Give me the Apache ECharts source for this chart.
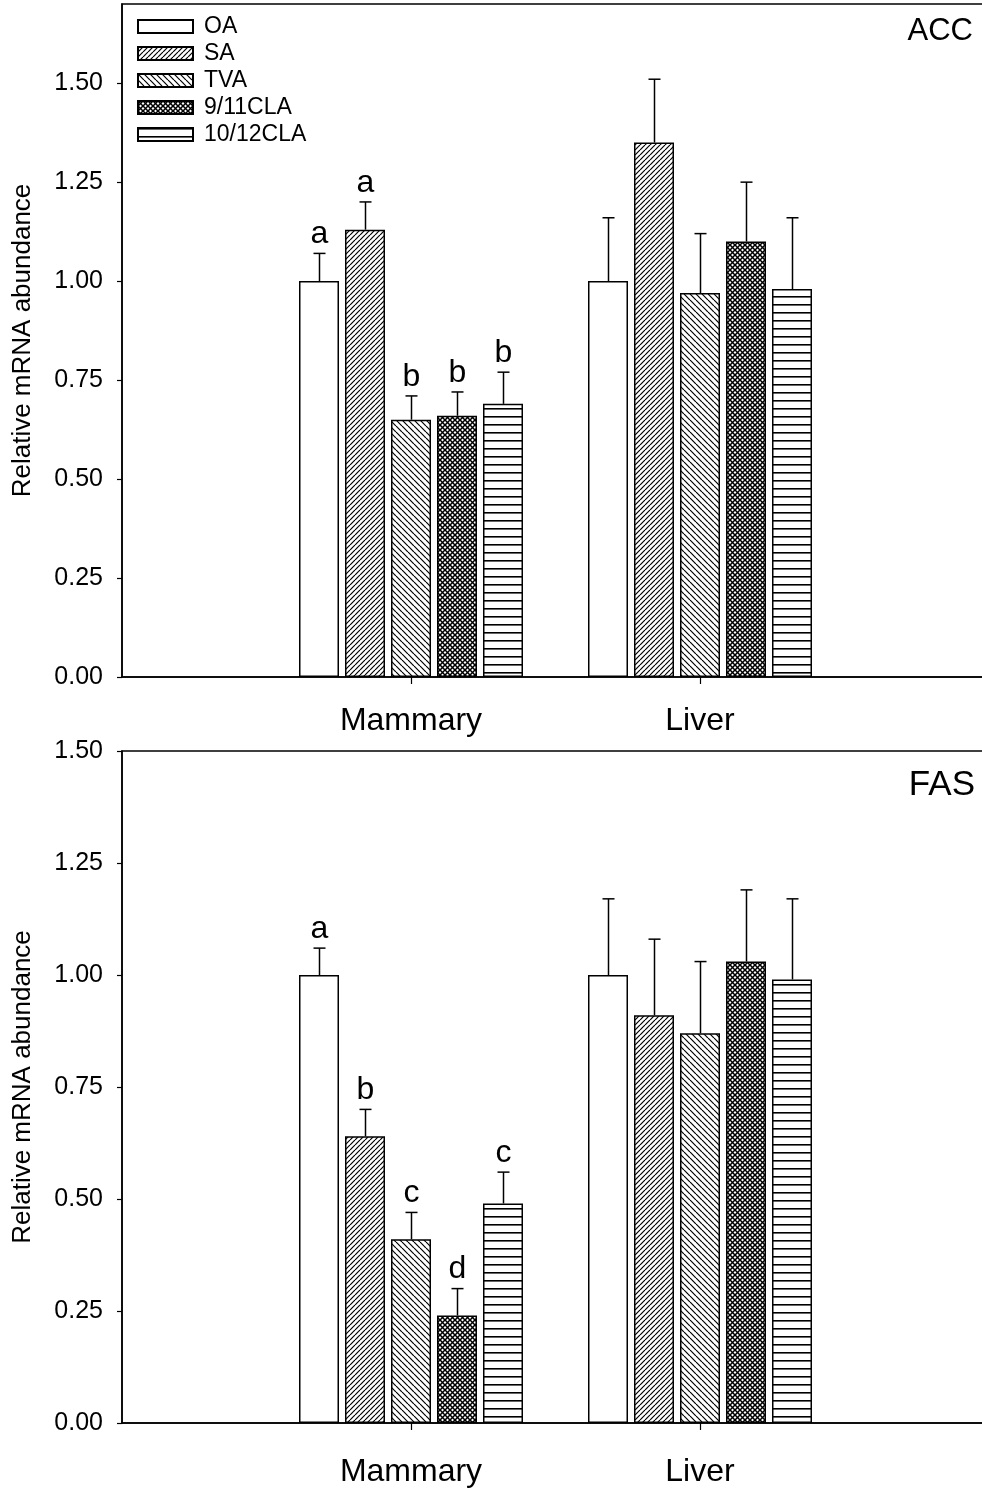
<!DOCTYPE html>
<html>
<head>
<meta charset="utf-8">
<script src="https://cdn.jsdelivr.net/npm/echarts@6/dist/echarts.min.js"></script>
<style>
html,body{margin:0;padding:0;background:#fff;overflow:hidden;}
#chart{width:982px;height:1490px;}
</style>
</head>
<body>
<div id="chart"></div>
<script>
// ---------------- DATA ----------------
const categories = ['Mammary', 'Liver'];
const treatments = ['OA', 'SA', 'TVA', '9/11CLA', '10/12CLA'];
const yTicks = [0, 0.25, 0.5, 0.75, 1.0, 1.25, 1.5];

// ACC panel: [Mammary, Liver] per treatment
const accOA    = [1.00, 1.00];
const accSA    = [1.13, 1.35];
const accTVA   = [0.65, 0.97];
const acc911   = [0.66, 1.10];
const acc1012  = [0.69, 0.98];
const accErrOA   = [0.07, 0.16];
const accErrSA   = [0.07, 0.16];
const accErrTVA  = [0.06, 0.15];
const accErr911  = [0.06, 0.15];
const accErr1012 = [0.08, 0.18];
const accLettersMammary = ['a', 'a', 'b', 'b', 'b'];
const accLettersLiver   = ['', '', '', '', ''];

// FAS panel
const fasOA    = [1.00, 1.00];
const fasSA    = [0.64, 0.91];
const fasTVA   = [0.41, 0.87];
const fas911   = [0.24, 1.03];
const fas1012  = [0.49, 0.99];
const fasErrOA   = [0.06, 0.17];
const fasErrSA   = [0.06, 0.17];
const fasErrTVA  = [0.06, 0.16];
const fasErr911  = [0.06, 0.16];
const fasErr1012 = [0.07, 0.18];
const fasLettersMammary = ['a', 'b', 'c', 'd', 'c'];
const fasLettersLiver   = ['', '', '', '', ''];

// ---------------- STYLE ----------------
const FONT = '"Liberation Sans", Arial, Helvetica, sans-serif';
const BAR_W = 40, BAR_STEP = 46;

function makeTile(size, draw) {
  const c = document.createElement('canvas');
  c.width = size; c.height = size;
  const g = c.getContext('2d');
  g.fillStyle = '#fff'; g.fillRect(0, 0, size, size);
  g.strokeStyle = '#000'; g.fillStyle = '#000';
  draw(g, size);
  return { image: c, repeat: 'repeat' };
}
const patWhite = '#ffffff';
const patFwd = makeTile(5, (g, s) => {
  g.lineWidth = 1.2;
  for (let k = -1; k <= 1; k++) { g.beginPath(); g.moveTo(k * s, s); g.lineTo(k * s + s, 0); g.stroke(); }
});
const patBack = makeTile(6, (g, s) => {
  g.lineWidth = 1.2;
  for (let k = -1; k <= 1; k++) { g.beginPath(); g.moveTo(k * s, 0); g.lineTo(k * s + s, s); g.stroke(); }
});
const patCross = makeTile(5, (g, s) => {
  g.lineWidth = 1.5;
  for (let k = -1; k <= 1; k++) {
    g.beginPath(); g.moveTo(k * s, s); g.lineTo(k * s + s, 0); g.stroke();
    g.beginPath(); g.moveTo(k * s, 0); g.lineTo(k * s + s, s); g.stroke();
  }
});
const patHoriz = makeTile(8, (g, s) => { g.fillRect(0, 0, s, 1.6); });
const patterns = [patWhite, patFwd, patBack, patCross, patHoriz];

const axisCats = [''].concat(categories).concat(['']);

function panelSeries(gridIdx, means, errs, letters) {
  const out = [];
  means.forEach((m, s) => {
    out.push({
      name: treatments[s],
      type: 'bar',
      xAxisIndex: gridIdx, yAxisIndex: gridIdx,
      barWidth: BAR_W,
      barGap: ((BAR_STEP - BAR_W) / BAR_W * 100) + '%',
      data: ['-'].concat(m).concat(['-']),
      itemStyle: { color: patterns[s], borderColor: '#000', borderWidth: 1.5 },
      emphasis: { disabled: true },
      silent: true,
      animation: false
    });
  });
  const items = [];
  means.forEach((m, s) => {
    m.forEach((v, c) => {
      items.push({ cat: c + 1, s: s, mean: v, err: errs[s][c], letter: letters[c][s] });
    });
  });
  out.push({
    type: 'custom',
    xAxisIndex: gridIdx, yAxisIndex: gridIdx,
    silent: true,
    animation: false,
    data: items.map(it => [it.cat, it.mean + it.err]),
    encode: { x: 0, y: 1 },
    renderItem: function (params, api) {
      const it = items[params.dataIndex];
      const base = api.coord([it.cat, it.mean]);
      const top = api.coord([it.cat, it.mean + it.err]);
      const x = Math.round(base[0] + (it.s - 2) * BAR_STEP) + 0.5;
      const children = [
        { type: 'line', shape: { x1: x, y1: base[1], x2: x, y2: top[1] }, style: { stroke: '#000', lineWidth: 1.5 } },
        { type: 'line', shape: { x1: x - 6, y1: top[1], x2: x + 6, y2: top[1] }, style: { stroke: '#000', lineWidth: 1.5 } }
      ];
      if (it.letter) {
        children.push({ type: 'text', style: { text: it.letter, x: x, y: top[1] - 3, align: 'center', verticalAlign: 'bottom', fontSize: 32, fontFamily: FONT, fill: '#000' } });
      }
      return { type: 'group', children: children };
    }
  });
  return out;
}

const grids = [
  { left: 122, width: 867, top: 4, height: 673 },
  { left: 122, width: 867, top: 751, height: 672 }
];

function xAxisCfg(gridIdx, margin) {
  return {
    type: 'category', gridIndex: gridIdx, data: axisCats, boundaryGap: false,
    axisLine: { lineStyle: { color: '#000', width: 1.5 } },
    axisTick: { show: true, length: 7, lineStyle: { color: '#000', width: 1.2 }, interval: (i) => i === 1 || i === 2 },
    axisLabel: { interval: 0, fontSize: 32, fontFamily: FONT, color: '#000', margin: margin },
    splitLine: { show: false }
  };
}
function yAxisCfg(gridIdx, max) {
  return {
    type: 'value', gridIndex: gridIdx, min: 0, max: max,
    name: 'Relative mRNA abundance', nameLocation: 'middle', nameGap: 86,
    nameTextStyle: { fontSize: 26, fontFamily: FONT, color: '#000' },
    axisLine: { show: true, lineStyle: { color: '#000', width: 1.5 } },
    axisTick: { show: true, length: 5, lineStyle: { color: '#000', width: 1.2 }, customValues: yTicks },
    axisLabel: { fontSize: 25, fontFamily: FONT, color: '#000', margin: 19, customValues: yTicks, formatter: v => v.toFixed(2) },
    splitLine: { show: false }
  };
}

const option = {
  backgroundColor: '#fff',
  animation: false,
  title: [
    { text: 'ACC', right: 9, top: 16, padding: 0, textStyle: { fontSize: 31, fontWeight: 'normal', fontFamily: FONT, color: '#000' } },
    { text: 'FAS', right: 7, top: 768, padding: 0, textStyle: { fontSize: 35, fontWeight: 'normal', fontFamily: FONT, color: '#000' } }
  ],
  legend: {
    data: treatments, orient: 'vertical', left: 137, top: 15, padding: 0,
    itemWidth: 55, itemHeight: 13, itemGap: 4, icon: 'rect',
    selectedMode: false,
    textStyle: { fontSize: 23, lineHeight: 22, fontFamily: FONT, color: '#000', padding: [0, 0, 0, 6] }
  },
  grid: grids.map(g => Object.assign({ show: true, borderColor: '#000', borderWidth: 1.5, backgroundColor: 'transparent', containLabel: false, outerBoundsMode: 'none' }, g)),
  xAxis: [xAxisCfg(0, 28), xAxisCfg(1, 33)],
  yAxis: [yAxisCfg(0, 1.70), yAxisCfg(1, 1.50)],
  series: [].concat(
    panelSeries(0, [accOA, accSA, accTVA, acc911, acc1012],
      [accErrOA, accErrSA, accErrTVA, accErr911, accErr1012],
      [accLettersMammary, accLettersLiver]),
    panelSeries(1, [fasOA, fasSA, fasTVA, fas911, fas1012],
      [fasErrOA, fasErrSA, fasErrTVA, fasErr911, fasErr1012],
      [fasLettersMammary, fasLettersLiver])
  )
};

const chart = echarts.init(document.getElementById('chart'), null, { renderer: 'canvas' });
chart.setOption(option);
</script>
</body>
</html>
